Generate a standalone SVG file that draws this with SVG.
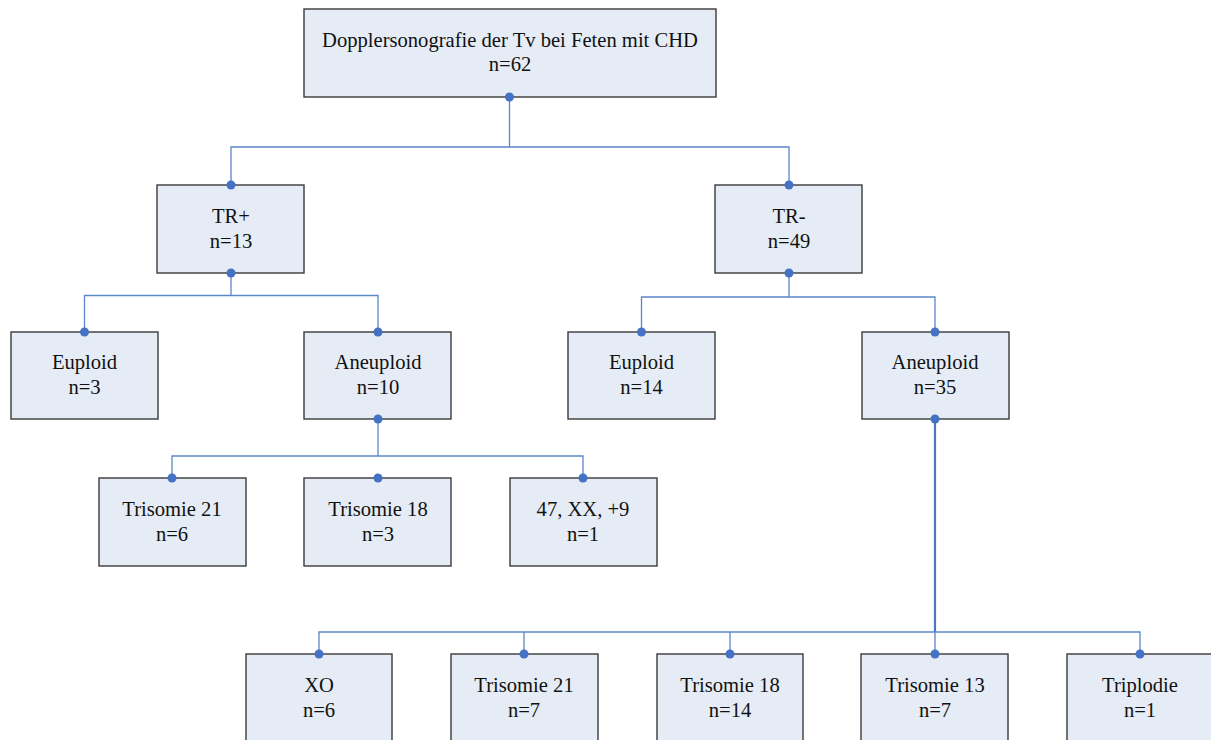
<svg xmlns="http://www.w3.org/2000/svg" width="1211" height="740" viewBox="0 0 1211 740">
<style>
.box{fill:#e6ecf6;stroke:#3a3a3a;stroke-width:1.4}
.t{font-family:"Liberation Serif","Times New Roman",serif;font-size:20.6px;fill:#111;text-anchor:middle}
.c{fill:none;stroke:#5b86c8;stroke-width:1.3}
.ct{fill:none;stroke:#4a78c0;stroke-width:2.2}
.d{fill:#4472c4}
</style>
<rect width="1211" height="740" fill="#fff"/>
<g id="root"><rect class="box" x="304" y="9" width="412" height="88"/><text class="t" x="510" y="47">Dopplersonografie der Tv bei Feten mit CHD</text><text class="t" x="510" y="71">n=62</text></g>
<g id="trplus"><rect class="box" x="157" y="185" width="147" height="88"/><text class="t" x="231" y="223">TR+</text><text class="t" x="231" y="248">n=13</text></g>
<g id="trminus"><rect class="box" x="715" y="185" width="147" height="88"/><text class="t" x="789" y="223">TR-</text><text class="t" x="789" y="248">n=49</text></g>
<g id="euploid1"><rect class="box" x="11" y="332" width="147" height="87"/><text class="t" x="84.5" y="369">Euploid</text><text class="t" x="84.5" y="394">n=3</text></g>
<g id="aneuploid1"><rect class="box" x="304" y="332" width="147" height="87"/><text class="t" x="378" y="369">Aneuploid</text><text class="t" x="378" y="394">n=10</text></g>
<g id="euploid2"><rect class="box" x="568" y="332" width="147" height="87"/><text class="t" x="641.5" y="369">Euploid</text><text class="t" x="641.5" y="394">n=14</text></g>
<g id="aneuploid2"><rect class="box" x="862" y="332" width="147" height="87"/><text class="t" x="935" y="369">Aneuploid</text><text class="t" x="935" y="394">n=35</text></g>
<g id="t21a"><rect class="box" x="99" y="478" width="147" height="88"/><text class="t" x="172" y="516">Trisomie 21</text><text class="t" x="172" y="541">n=6</text></g>
<g id="t18a"><rect class="box" x="304" y="478" width="147" height="88"/><text class="t" x="378" y="516">Trisomie 18</text><text class="t" x="378" y="541">n=3</text></g>
<g id="t9a"><rect class="box" x="510" y="478" width="147" height="88"/><text class="t" x="583" y="516">47, XX, +9</text><text class="t" x="583" y="541">n=1</text></g>
<g id="xo"><rect class="box" x="246" y="654" width="146" height="88"/><text class="t" x="319" y="692">XO</text><text class="t" x="319" y="717">n=6</text></g>
<g id="t21b"><rect class="box" x="451" y="654" width="147" height="88"/><text class="t" x="524" y="692">Trisomie 21</text><text class="t" x="524" y="717">n=7</text></g>
<g id="t18b"><rect class="box" x="657" y="654" width="146" height="88"/><text class="t" x="730" y="692">Trisomie 18</text><text class="t" x="730" y="717">n=14</text></g>
<g id="t13b"><rect class="box" x="861" y="654" width="147" height="88"/><text class="t" x="935" y="692">Trisomie 13</text><text class="t" x="935" y="717">n=7</text></g>
<g id="triplo"><rect class="box" x="1067" y="654" width="147" height="88"/><text class="t" x="1140" y="692">Triplodie</text><text class="t" x="1140" y="717">n=1</text></g>
<g id="connectors">
<path class="c" d="M509.5 97V147M231 185V147H789V185"/>
<path class="c" d="M231 273V295.5M84.5 332V295.5H378V332"/>
<path class="c" d="M789 273V297M641.5 332V297H935V332"/>
<path class="c" d="M378 419V456M172 478V456H583V478"/>
<path class="ct" d="M935 419V632"/>
<path class="c" d="M319 654V632H1140V654M524 632V654M730 632V654M935 632V654"/>
<circle class="d" cx="509.5" cy="97" r="4.5"/>
<circle class="d" cx="231" cy="185" r="4.5"/>
<circle class="d" cx="789" cy="185" r="4.5"/>
<circle class="d" cx="231" cy="273" r="4.5"/>
<circle class="d" cx="789" cy="273" r="4.5"/>
<circle class="d" cx="84.5" cy="332" r="4.5"/>
<circle class="d" cx="378" cy="332" r="4.5"/>
<circle class="d" cx="641.5" cy="332" r="4.5"/>
<circle class="d" cx="935" cy="332" r="4.5"/>
<circle class="d" cx="378" cy="419" r="4.5"/>
<circle class="d" cx="935" cy="419" r="4.5"/>
<circle class="d" cx="172" cy="478" r="4.5"/>
<circle class="d" cx="378" cy="478" r="4.5"/>
<circle class="d" cx="583" cy="478" r="4.5"/>
<circle class="d" cx="319" cy="654" r="4.5"/>
<circle class="d" cx="524" cy="654" r="4.5"/>
<circle class="d" cx="730" cy="654" r="4.5"/>
<circle class="d" cx="935" cy="654" r="4.5"/>
<circle class="d" cx="1140" cy="654" r="4.5"/>
</g>
</svg>
